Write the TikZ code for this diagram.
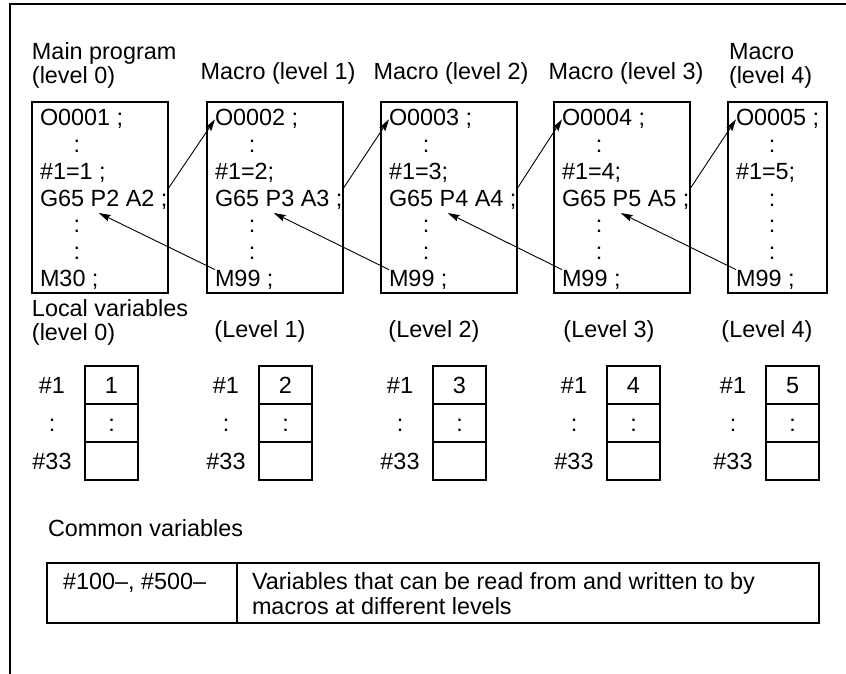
\documentclass[tikz,border=0pt]{standalone}
\usepackage{fontspec}
\setmainfont{Liberation Sans}
\usetikzlibrary{arrows.meta}
\begin{document}
\begin{tikzpicture}[x=0.5pt,y=-0.5pt,
every node/.style={inner sep=0pt, outer sep=0pt, font=\fontsize{11.7}{14}\selectfont},
code/.style={anchor=base west},
dots/.style={anchor=base},
box/.style={line width=0.9pt},
cell/.style={draw, line width=0.9pt, minimum width=26.5pt, minimum height=19pt, text height=8.4pt, text depth=0pt},
vname/.style={text height=8.4pt, text depth=0pt},
call/.style={line width=0.45pt, -{Stealth[length=6pt,width=3.4pt,inset=1pt]}}]
\useasboundingbox (0,0) rectangle (846,674);
\draw[line width=1pt] (846,4.5) -- (9.5,4.5) -- (9.5,674);
\node[code] (h0a) at (32,60) {Main program};
\node[code] (h0b) at (32,84) {(level 0)};
\foreach \n/\x in {1/278,2/451,3/626} {
\node[anchor=base] (h\n) at (\x,80) {Macro (level \n)};
}
\node[code] (h4a) at (729,60) {Macro};
\node[code] (h4b) at (729,84) {(level 4)};
\foreach \n/\x/\set/\last [evaluate=\n as \m using int(\n+1)] in {1/32/{\#1=1 ;}/{M30 ;},2/207/{\#1=2;}/{M99 ;},3/381/{\#1=3;}/{M99 ;},4/554/{\#1=4;}/{M99 ;}} {
\draw[box] (\x,102) rectangle ++(136,191);
\node[code] (o\n) at (\x+8,126) {O000\n\ ;};
\node[dots] (oa\n) at (\x+45,152.7) {:};
\node[code] (s\n) at (\x+8,179.3) {\set};
\node[code] (g\n) at (\x+8,206) {G65 P\m\ A\m\ ;};
\node[dots] (ga\n) at (\x+45,232.7) {:};
\node[dots] (gb\n) at (\x+45,259.3) {:};
\node[code] (m\n) at (\x+8,286) {\last};
}
\draw[box] (728,102) rectangle ++(99,191);
\node[code] (o5) at (736,126) {O0005 ;};
\node[dots] (oa5) at (772,152.7) {:};
\node[code] (s5) at (736,179.3) {\#1=5;};
\foreach \j/\y in {a/206,b/232.7,c/259.3} {
\node[dots] (g\j5) at (772,\y) {:};
}
\node[code] (m5) at (736,286) {M99 ;};
\foreach \n [evaluate=\n as \m using int(\n+1)] in {1,2,3,4} {
\draw[call] (g\n.north east) -- (o\m.west);
\draw[call] (m\m.north west) -- ([xshift=-2.5pt,yshift=-2pt]g\n.south);
}
\node[code] (l0a) at (32,316) {Local variables};
\node[code] (l0b) at (32,340) {(level 0)};
\foreach \n/\x in {1/260,2/434,3/609,4/767} {
\node[anchor=base] (l\n) at (\x,337) {(Level \n)};
}
\foreach \v/\x in {1/85,2/259,3/433,4/607,5/766} {
\node[cell] (va\v) at (\x+26.5,385) {\v};
\node[cell] (vb\v) at (\x+26.5,423) {:};
\node[cell] (vc\v) at (\x+26.5,461) {};
\node[vname] (na\v) at (\x-33,385) {\#1};
\node[vname] (nb\v) at (\x-33,423) {:};
\node[vname] (nc\v) at (\x-33,461) {\#33};
}
\node[code] (common) at (48,536) {Common variables};
\draw[box] (47,563) rectangle (819,623);
\draw[line width=0.6pt] (237,563) -- (237,623);
\node[code] (cnum) at (63,589) {\#100--, \#500--};
\node[code] (cdesca) at (252,589) {Variables that can be read from and written to by};
\node[code] (cdescb) at (252,614) {macros at different levels};
\end{tikzpicture}
\end{document}
